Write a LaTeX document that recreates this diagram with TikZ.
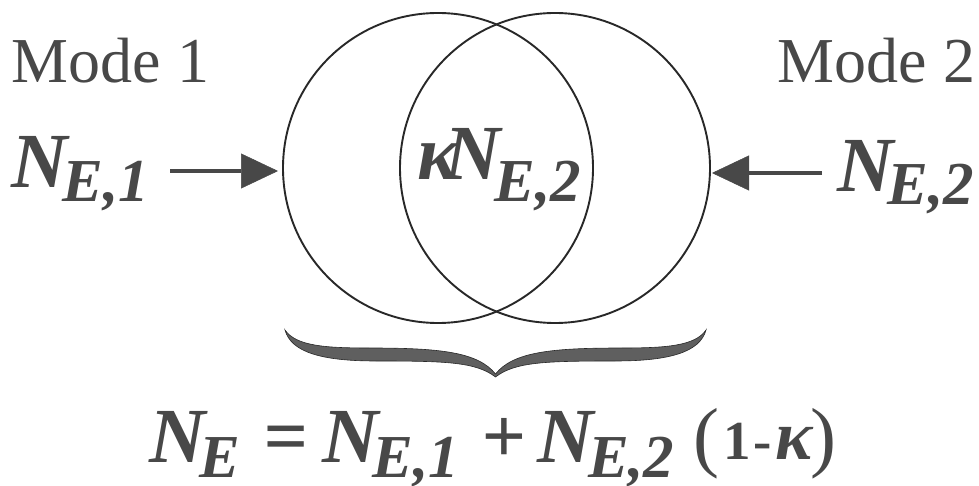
\documentclass[tikz,border=0pt]{standalone}
\usepackage{fontspec}
\setmainfont{Liberation Serif}
\usetikzlibrary{arrows.meta}
\definecolor{txtgray}{RGB}{72,72,72}
\definecolor{linegray}{RGB}{40,40,40}
\definecolor{bracegray}{RGB}{95,95,95}
\newcommand\mysub[2][14pt]{\raisebox{-#1}{\fontsize{61}{61}\selectfont #2}}
\newcommand\bigsize{\fontsize{78}{80}\selectfont\bfseries\itshape}
\begin{document}
\begin{tikzpicture}[x=1pt,y=-1pt,
  txt/.style={inner sep=0pt, outer sep=0pt, text=txtgray},
  modelabel/.style={txt, font=\fontsize{64}{66}\selectfont},
  mathlabel/.style={txt, font=\bigsize},
  ring/.style={circle, draw=linegray, line width=1.9pt, minimum size=310pt, inner sep=0pt, outer sep=0pt},
  arr/.style={draw=txtgray, line width=4.5pt, -{Triangle[length=37pt,width=35pt,line width=0.5pt]}, fill=txtgray}
]
\useasboundingbox (0,0) rectangle (979,486);
\fill[white] (0,0) rectangle (979,486);

% circles
\node[ring] (c1) at (438,168) {};
\node[ring] (c2) at (555,168) {};

% labels
\node[modelabel, anchor=base west] (m1) at (12,83) {Mode 1};
\node[modelabel, anchor=base east] (m2) at (975,83) {Mode 2};

\node[mathlabel, anchor=base west] (ne1) at (12,188) {N\kern-6pt\mysub{E,1}};
\node[mathlabel, anchor=base east] (ne2) at (974,192) {N\kern-6pt\mysub[13pt]{E,2}};
\node[mathlabel, anchor=base west] (mid) at (417,180) {κ\kern-14pt N\kern-6pt\mysub[22pt]{E,2}};

% arrows
\coordinate (a1s) at (170,171);
\coordinate (a2s) at (822,173);
\draw[arr] (a1s) -- ([xshift=-5pt]c1.west |- a1s);
\draw[arr] (a2s) -- ([xshift=2pt]c2.east |- a2s);

% brace
\fill[bracegray, draw=linegray, line width=0.6pt]
  (285,330) .. controls (296,346) and (325,348) .. (370,348)
  .. controls (440,348) and (478,352) .. (495.5,374)
  .. controls (513,352) and (551,348) .. (621,348)
  .. controls (666,348) and (695,346) .. (706,330)
  .. controls (700,352) and (670,361) .. (615,361)
  .. controls (545,361) and (515,362) .. (495.5,377)
  .. controls (476,362) and (446,361) .. (376,361)
  .. controls (321,361) and (291,352) .. (285,330) -- cycle;

% formula
\node[mathlabel, anchor=base west] (eq) at (149,462)
  {N\kern-6pt\mysub[15pt]{E}\kern23pt=\kern15pt N\kern-6pt\mysub[15pt]{E,1}\kern22pt+\kern12pt N\kern-6pt\mysub[15pt]{E,2}\kern19pt{\mdseries\upshape(}\kern4pt\raisebox{3pt}{\fontsize{55}{55}\selectfont\upshape 1\kern3pt-\kern3pt{\fontsize{70}{70}\selectfont\itshape κ}}\kern-2pt{\mdseries\upshape)}};
\end{tikzpicture}
\end{document}
